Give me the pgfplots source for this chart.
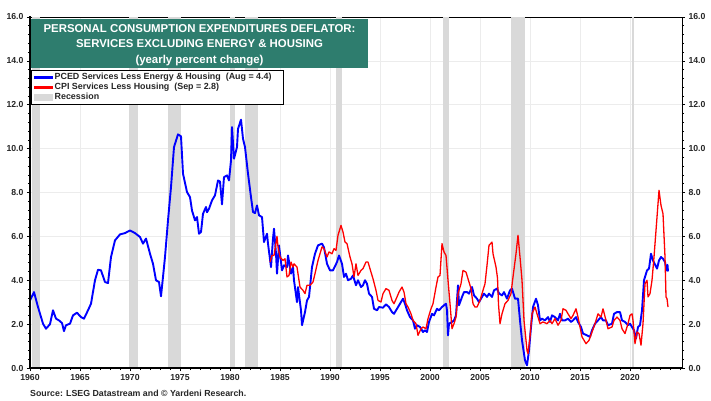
\documentclass[border=0pt]{standalone}
\usepackage{fontspec}
\setmainfont{Liberation Sans}
\usepackage{pgfplots}
\usepackage{pgfplotstable}
\pgfplotsset{compat=1.18}
\definecolor{titlegreen}{RGB}{46,125,110}
\definecolor{recgray}{RGB}{217,217,217}
\definecolor{gridgray}{RGB}{236,236,236}
\definecolor{serblue}{RGB}{0,0,255}
\definecolor{serred}{RGB}{255,0,0}

\pgfplotstableread{
year val
1960.0 3.08
1960.4 3.46
1960.8 2.78
1961.3 2.02
1961.6 1.79
1962.0 2.00
1962.3 2.63
1962.6 2.25
1962.9 2.17
1963.2 2.05
1963.4 1.68
1963.6 1.95
1964.0 2.02
1964.3 2.40
1964.7 2.52
1965.1 2.32
1965.4 2.25
1965.8 2.63
1966.1 2.93
1966.5 4.00
1966.8 4.48
1967.1 4.45
1967.5 3.92
1967.8 3.87
1968.1 5.06
1968.5 5.82
1969.0 6.09
1969.5 6.15
1970.0 6.27
1970.5 6.15
1971.0 5.97
1971.3 5.67
1971.6 5.90
1972.0 5.21
1972.3 4.75
1972.6 4.00
1972.9 3.92
1973.1 3.27
1973.3 4.15
1973.5 5.06
1973.8 6.73
1974.1 8.25
1974.4 10.07
1974.8 10.65
1975.1 10.56
1975.3 8.86
1975.7 8.02
1976.0 7.79
1976.2 7.18
1976.5 6.73
1976.7 6.88
1976.9 6.12
1977.1 6.20
1977.3 7.03
1977.6 7.34
1977.7 7.10
1977.9 7.26
1978.2 7.64
1978.5 7.87
1978.8 8.55
1979.0 8.50
1979.2 7.46
1979.4 8.70
1979.7 8.78
1979.9 8.55
1980.1 9.46
1980.2 10.98
1980.4 9.54
1980.7 10.07
1980.8 10.90
1981.1 11.32
1981.3 10.45
1981.5 10.07
1981.8 8.86
1982.1 7.79
1982.3 7.11
1982.5 7.06
1982.7 7.41
1982.9 6.96
1983.2 6.88
1983.4 5.74
1983.7 6.12
1983.8 5.67
1984.1 4.60
1984.3 5.90
1984.4 6.35
1984.6 5.21
1984.7 4.30
1984.9 5.59
1985.2 4.45
1985.4 4.68
1985.7 4.60
1985.8 5.13
1986.1 4.30
1986.3 4.60
1986.4 4.00
1986.7 3.00
1986.8 3.69
1987.1 2.63
1987.2 1.95
1987.5 2.55
1987.7 3.08
1987.9 3.24
1988.2 4.60
1988.5 5.21
1988.8 5.59
1989.2 5.67
1989.4 5.50
1989.7 4.75
1990.0 4.45
1990.3 4.45
1990.7 4.83
1990.9 5.13
1991.2 4.75
1991.4 4.15
1991.6 4.30
1991.8 4.00
1992.1 4.07
1992.3 4.22
1992.6 3.77
1992.8 4.00
1993.1 3.69
1993.3 3.77
1993.5 4.00
1993.7 3.84
1993.9 3.39
1994.2 3.24
1994.4 2.70
1994.7 2.63
1994.9 2.78
1995.3 2.75
1995.6 2.90
1995.9 2.78
1996.2 2.55
1996.4 2.47
1996.7 2.70
1997.0 2.93
1997.3 3.16
1997.5 2.93
1997.7 2.63
1998.0 2.32
1998.3 2.17
1998.5 1.79
1998.7 1.95
1999.0 1.87
1999.3 1.64
1999.5 1.72
1999.7 1.64
1999.9 2.10
2000.2 2.47
2000.4 2.40
2000.7 2.70
2000.9 2.63
2001.2 2.78
2001.4 2.86
2001.6 2.93
2001.7 2.63
2001.8 1.49
2001.9 2.02
2002.2 2.10
2002.4 2.17
2002.6 2.40
2002.8 3.77
2002.9 2.86
2003.2 3.24
2003.4 3.46
2003.7 3.46
2003.9 3.39
2004.2 3.69
2004.4 3.31
2004.7 3.16
2004.9 3.00
2005.2 3.24
2005.4 3.39
2005.7 3.24
2005.9 3.39
2006.2 3.24
2006.4 3.54
2006.7 3.62
2006.9 3.40
2007.2 3.31
2007.4 3.46
2007.7 3.16
2008.0 3.54
2008.2 3.62
2008.5 3.16
2008.8 3.16
2009.0 2.17
2009.2 1.26
2009.5 0.35
2009.7 0.12
2009.9 0.80
2010.1 1.87
2010.3 2.78
2010.6 3.16
2010.8 2.86
2011.0 2.17
2011.2 2.25
2011.5 2.17
2011.8 2.32
2012.0 2.10
2012.2 2.40
2012.5 2.32
2012.8 2.17
2013.0 2.47
2013.2 2.17
2013.5 2.17
2013.8 2.25
2014.1 2.10
2014.3 2.17
2014.6 2.32
2014.8 2.10
2015.1 1.87
2015.3 1.57
2015.7 1.49
2016.0 1.42
2016.2 1.72
2016.5 2.02
2016.8 2.17
2017.1 2.32
2017.3 2.17
2017.6 2.17
2017.8 1.95
2018.2 2.02
2018.4 2.47
2018.7 2.55
2019.0 2.55
2019.2 2.17
2019.5 2.10
2019.8 1.95
2020.0 2.02
2020.2 1.87
2020.4 1.72
2020.6 1.34
2020.8 1.87
2021.0 1.95
2021.2 2.63
2021.4 4.00
2021.7 4.45
2021.9 4.53
2022.1 5.21
2022.3 4.90
2022.7 4.53
2022.9 4.90
2023.1 5.06
2023.3 4.98
2023.5 4.83
2023.65 4.45
2023.75 4.70
2023.8 4.40
}\pced

\pgfplotstableread{
year val
1984.0 4.83
1984.2 5.13
1984.4 5.13
1984.7 6.00
1984.8 5.52
1985.0 5.06
1985.3 4.90
1985.5 4.98
1985.7 4.15
1985.9 4.22
1986.1 4.83
1986.3 4.60
1986.4 4.75
1986.7 4.60
1987.0 3.69
1987.3 3.54
1987.5 3.39
1987.7 3.77
1988.0 3.77
1988.3 3.92
1988.5 4.30
1988.8 4.90
1989.2 5.52
1989.4 5.44
1989.7 5.06
1989.9 5.29
1990.2 5.21
1990.4 5.44
1990.6 5.36
1990.8 6.05
1991.1 6.50
1991.3 6.20
1991.5 5.74
1991.7 5.67
1992.0 5.06
1992.2 4.75
1992.4 4.15
1992.6 4.75
1992.8 4.22
1993.1 4.45
1993.3 4.53
1993.6 4.83
1993.8 4.83
1994.1 4.37
1994.3 4.07
1994.6 3.54
1994.8 3.08
1995.1 3.01
1995.3 3.39
1995.6 3.62
1995.9 3.54
1996.2 3.08
1996.4 2.93
1996.7 3.24
1996.9 3.46
1997.2 3.69
1997.4 3.46
1997.6 2.93
1997.8 2.78
1998.1 2.47
1998.3 2.17
1998.6 2.02
1998.8 1.49
1999.1 1.79
1999.3 1.87
1999.6 1.79
1999.8 2.25
2000.1 2.70
2000.3 2.93
2000.6 3.69
2000.8 4.15
2001.0 4.22
2001.2 5.67
2001.4 5.29
2001.6 5.13
2001.8 4.00
2002.0 2.93
2002.2 1.79
2002.4 2.02
2002.6 2.32
2002.8 3.39
2003.1 3.84
2003.3 4.45
2003.6 4.37
2003.8 4.07
2004.1 3.62
2004.3 2.93
2004.5 2.78
2004.7 2.78
2005.0 3.08
2005.3 3.54
2005.5 3.84
2005.7 4.68
2005.9 5.59
2006.2 5.74
2006.3 5.21
2006.6 4.60
2006.75 4.10
2006.85 2.90
2007.0 2.02
2007.2 2.47
2007.5 2.93
2007.8 3.08
2008.1 3.39
2008.3 4.15
2008.6 5.21
2008.8 6.05
2009.0 5.06
2009.2 4.00
2009.4 2.17
2009.7 0.80
2009.8 0.65
2010.0 1.42
2010.2 2.47
2010.5 2.78
2010.7 2.47
2011.0 2.02
2011.3 2.10
2011.7 2.02
2012.0 2.17
2012.2 2.02
2012.5 2.25
2012.8 1.95
2013.1 2.17
2013.3 2.70
2013.6 2.63
2013.8 2.47
2014.1 2.25
2014.3 2.40
2014.6 2.70
2014.8 2.32
2015.0 1.87
2015.2 1.42
2015.6 1.11
2015.9 1.26
2016.2 1.64
2016.5 2.02
2016.8 2.47
2017.1 2.32
2017.3 2.70
2017.6 2.17
2017.8 1.79
2018.2 1.87
2018.4 2.17
2018.7 2.32
2019.0 2.17
2019.2 1.79
2019.5 1.57
2019.8 2.02
2020.0 2.40
2020.2 2.47
2020.3 2.17
2020.5 1.11
2020.7 1.64
2020.9 1.57
2021.1 1.04
2021.3 2.02
2021.5 3.84
2021.7 4.00
2021.8 3.24
2022.0 3.39
2022.2 4.00
2022.4 5.06
2022.7 6.88
2022.8 7.49
2022.9 8.10
2023.1 7.41
2023.3 7.03
2023.5 5.06
2023.6 3.24
2023.7 3.16
2023.8 2.78
}\cpi

\begin{document}
\begin{tikzpicture}[x=1pt,y=1pt]
\path[use as bounding box] (-30,-32) rectangle (681,368);
\begin{axis}[name=main, at={(0,0)}, anchor=south west,
  scale only axis, width=652pt, height=351pt,
  xmin=1960, xmax=2025.2, ymin=0, ymax=16,
  xtick={1960,1965,...,2020}, minor xtick={1961,1962,...,2025},
  ytick={0,2,...,16}, minor y tick num=4,
  tick align=outside, major tick length=3pt, minor tick length=2pt,
  xtick pos=bottom, ytick pos=left,
  grid=major, major grid style={gridgray, line width=0.6pt},
  axis line style={line width=0.8pt},
  tick style={black, line width=0.6pt},
  /pgf/number format/assume math mode=true,
  tick label style={font=\fontsize{8.7}{10}\selectfont\bfseries, text=black!85},
  xticklabel style={/pgf/number format/1000 sep={}},
  yticklabel style={/pgf/number format/.cd, fixed, fixed zerofill, precision=1},
  legend style={at={(rel axis cs:0.0015,0.849)}, anchor=north west,
    draw=black, line width=0.8pt, fill=white, inner xsep=2.5pt, inner ysep=2.5pt,
    font=\fontsize{8.9}{10}\selectfont\bfseries, text=black!85,
    nodes={inner ysep=0pt, text height=7pt, text depth=2.8pt}, row sep=0pt},
  legend cell align=left,
]
\addlegendimage{legend image code/.code={\fill[serblue] (0pt,-0.95pt) rectangle (18pt,0.95pt);}}
\addlegendentry{PCED Services Less Energy \& Housing\ \ (Aug = 4.4)\hspace*{7pt}\null}
\addlegendimage{legend image code/.code={\fill[serred] (0pt,-0.8pt) rectangle (18pt,0.8pt);}}
\addlegendentry{CPI Services Less Housing\ \ (Sep = 2.8)}
\addlegendimage{legend image code/.code={\fill[recgray] (0pt,-3.2pt) rectangle (18pt,3.2pt);}}
\addlegendentry{Recession}

\addplot[forget plot, fill=recgray, draw=none] coordinates {(1960.2,0) (1960.2,16) (1961.0,16) (1961.0,0)} -- cycle;
\addplot[forget plot, fill=recgray, draw=none] coordinates {(1969.9,0) (1969.9,16) (1970.8,16) (1970.8,0)} -- cycle;
\addplot[forget plot, fill=recgray, draw=none] coordinates {(1973.8,0) (1973.8,16) (1975.1,16) (1975.1,0)} -- cycle;
\addplot[forget plot, fill=recgray, draw=none] coordinates {(1980.0,0) (1980.0,16) (1980.5,16) (1980.5,0)} -- cycle;
\addplot[forget plot, fill=recgray, draw=none] coordinates {(1981.5,0) (1981.5,16) (1982.8,16) (1982.8,0)} -- cycle;
\addplot[forget plot, fill=recgray, draw=none] coordinates {(1990.6,0) (1990.6,16) (1991.2,16) (1991.2,0)} -- cycle;
\addplot[forget plot, fill=recgray, draw=none] coordinates {(2001.3,0) (2001.3,16) (2001.9,16) (2001.9,0)} -- cycle;
\addplot[forget plot, fill=recgray, draw=none] coordinates {(2008.1,0) (2008.1,16) (2009.5,16) (2009.5,0)} -- cycle;
\addplot[forget plot, fill=recgray, draw=none] coordinates {(2020.2,0) (2020.2,16) (2020.4,16) (2020.4,0)} -- cycle;

\addplot[forget plot, serblue, line width=1.9pt, line join=round] table[x=year, y=val] {\pced};
\addplot[forget plot, serred, line width=1.3pt, line join=round] table[x=year, y=val] {\cpi};
\end{axis}

\begin{axis}[at={(0,0)}, anchor=south west,
  scale only axis, width=652pt, height=351pt,
  xmin=1960, xmax=2025.2, ymin=0, ymax=16,
  axis x line=none, axis y line*=right,
  ytick={0,2,...,16}, minor y tick num=4,
  tick align=outside, major tick length=3pt, minor tick length=2pt,
  axis line style={line width=0.8pt},
  tick style={black, line width=0.6pt},
  /pgf/number format/assume math mode=true,
  tick label style={font=\fontsize{8.7}{10}\selectfont\bfseries, text=black!85},
  yticklabel style={/pgf/number format/.cd, fixed, fixed zerofill, precision=1},
]
\addplot[draw=none, forget plot] coordinates {(1960,0)};
\end{axis}

\draw[line width=1.6pt, line cap=rect] (main.north west) -- (main.south west) -- (main.south east);

\fill[titlegreen] (1,300) rectangle (338,349);
\node[anchor=base, text=white, font=\fontsize{11.4}{13}\selectfont\bfseries] at (169.5,335.6) {PERSONAL CONSUMPTION EXPENDITURES DEFLATOR:};
\node[anchor=base, text=white, font=\fontsize{11.4}{13}\selectfont\bfseries] at (169.5,320.6) {SERVICES EXCLUDING ENERGY \& HOUSING};
\node[anchor=base, text=white, font=\fontsize{11.4}{13}\selectfont\bfseries] at (169.5,304.7) {(yearly percent change)};

\node[anchor=base west, inner sep=0pt, text=black!85, font=\fontsize{8.8}{10}\selectfont\bfseries] at (0,-28) {Source: LSEG Datastream and © Yardeni Research.};
\end{tikzpicture}
\end{document}
